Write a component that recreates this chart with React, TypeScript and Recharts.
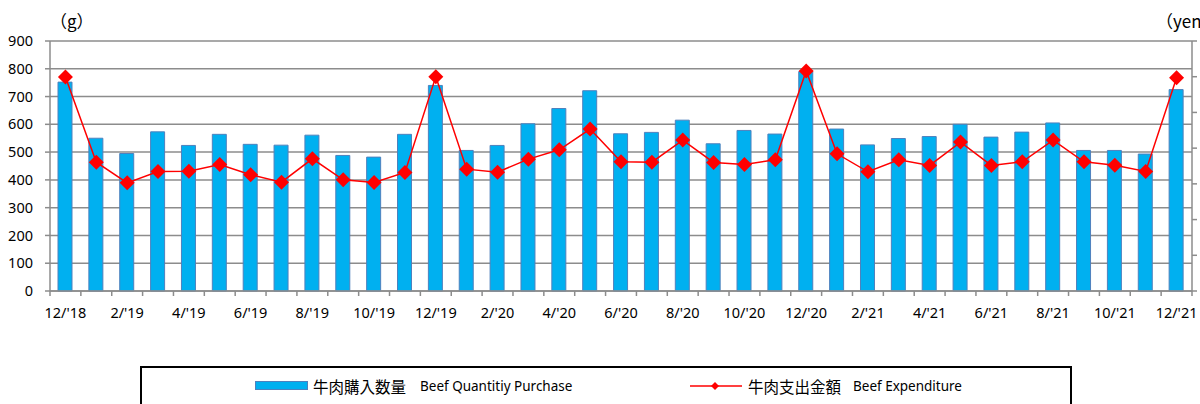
import React from "react";
import {
  ComposedChart, Bar, Line, XAxis, YAxis, CartesianGrid,
} from "recharts";

const months = [
  "12/'18", "1/'19", "2/'19", "3/'19", "4/'19", "5/'19", "6/'19", "7/'19", "8/'19", "9/'19", "10/'19", "11/'19",
  "12/'19", "1/'20", "2/'20", "3/'20", "4/'20", "5/'20", "6/'20", "7/'20", "8/'20", "9/'20", "10/'20", "11/'20",
  "12/'20", "1/'21", "2/'21", "3/'21", "4/'21", "5/'21", "6/'21", "7/'21", "8/'21", "9/'21", "10/'21", "11/'21",
  "12/'21",
];

// grams
const quantity = [
  752, 550, 495, 573, 524, 564, 528, 525, 561, 488, 482, 564,
  740, 506, 524, 602, 657, 721, 566, 571, 615, 530, 578, 565,
  790, 583, 526, 549, 556, 600, 554, 572, 605, 506, 506, 493,
  725,
];

// yen
const expenditure = [
  2995, 1804, 1514, 1673, 1678, 1771, 1627, 1524, 1851, 1556, 1519, 1660,
  3001, 1706, 1664, 1846, 1977, 2267, 1809, 1804, 2113, 1800, 1771, 1837,
  3080, 1921, 1669, 1837, 1758, 2085, 1758, 1809, 2113, 1809, 1762, 1673,
  2987,
];

const leftTicks = [0, 100, 200, 300, 400, 500, 600, 700, 800, 900];
const rightTicks = [0, 500, 1000, 1500, 2000, 2500, 3000, 3500];

const data = months.map((m, i) => ({ month: m, qty: quantity[i], yen: expenditure[i] }));

const W = 1200;
const H = 404;
const PLOT_LEFT = 50;
const PLOT_RIGHT = 1192;
const BAND = (PLOT_RIGHT - PLOT_LEFT) / months.length;
const GRID = "#8c8c8c";
const FONT = '"Noto Sans", "Noto Sans CJK JP", sans-serif';
const CJK = '"Noto Sans CJK JP", "Noto Sans", sans-serif';

const MonthTick = (props: any) => {
  const { x, y, index } = props;
  const left = x - BAND / 2;
  return (
    <g>
      <line x1={left} x2={left} y1={y} y2={y + 5} stroke={GRID} strokeWidth={1.5} />
      {index === months.length - 1 && (
        <line x1={x + BAND / 2} x2={x + BAND / 2} y1={y} y2={y + 5} stroke={GRID} strokeWidth={1.5} />
      )}
      {index % 2 === 0 && (
        <text x={x} y={y + 27} textAnchor="middle" fontSize={14.5} fill="#000" fontFamily={FONT}>
          {months[index]}
        </text>
      )}
    </g>
  );
};

const Diamond = (props: any) => {
  const { cx, cy } = props;
  if (cx == null || cy == null) return null;
  const r = 7.5;
  return (
    <polygon
      points={`${cx},${cy - r} ${cx + r},${cy} ${cx},${cy + r} ${cx - r},${cy}`}
      fill="#ff0000"
    />
  );
};

const NoLabel = () => <g />;

export default function App() {
  return (
    <div style={{ position: "absolute", left: 0, top: 0, width: W, height: H, background: "#fff", fontFamily: FONT, overflow: "hidden" }}>
      <ComposedChart
        width={W}
        height={H}
        data={data}
        margin={{ top: 41, right: 0, bottom: 83, left: 0 }}
      >
        <CartesianGrid yAxisId="left" vertical={false} stroke={GRID} strokeWidth={1.5} />
        <XAxis
          dataKey="month"
          height={30}
          interval={0}
          tickLine={false}
          tickSize={0}
          tickMargin={0}
          axisLine={{ stroke: GRID, strokeWidth: 1.5 }}
          tick={MonthTick}
        />
        <YAxis
          yAxisId="left"
          width={50}
          domain={[0, 900]}
          ticks={leftTicks}
          tickSize={5}
          tickMargin={12}
          tick={{ fontSize: 14.5, fill: "#000", fontFamily: FONT }}
          axisLine={{ stroke: GRID, strokeWidth: 1.5 }}
          tickLine={{ stroke: GRID, strokeWidth: 1.5 }}
        />
        <YAxis
          yAxisId="right"
          orientation="right"
          width={8}
          domain={[0, 3500]}
          ticks={rightTicks}
          tickSize={5}
          tick={NoLabel}
          axisLine={{ stroke: GRID, strokeWidth: 1.5 }}
          tickLine={{ stroke: GRID, strokeWidth: 1.5 }}
        />
        <Bar
          yAxisId="left"
          dataKey="qty"
          barSize={14}
          fill="#00b0f0"
          stroke="#4f81bd"
          strokeWidth={1}
          isAnimationActive={false}
        />
        <Line
          yAxisId="right"
          dataKey="yen"
          stroke="#ff0000"
          strokeWidth={1.5}
          dot={<Diamond />}
          activeDot={false}
          isAnimationActive={false}
        />
      </ComposedChart>

      <div style={{ position: "absolute", left: 50, top: 8, fontSize: 17, lineHeight: "26px", color: "#000", fontFamily: CJK }}>（g）</div>
      <div style={{ position: "absolute", left: 1156, top: 8, fontSize: 17, lineHeight: "26px", color: "#000", whiteSpace: "nowrap", fontFamily: CJK }}>（yen）</div>

      <div
        style={{
          position: "absolute",
          left: 140,
          top: 366,
          width: 932,
          height: 60,
          border: "2px solid #000",
          boxSizing: "border-box",
        }}
      >
        <svg style={{ position: "absolute", left: 113, top: 13 }} width={54} height={10}>
          <rect x={0.5} y={0.5} width={52} height={8} fill="#00b0f0" stroke="#4f81bd" strokeWidth={1} />
        </svg>
        <div style={{ position: "absolute", left: 171, top: 7, fontSize: 15.5, lineHeight: "22px", whiteSpace: "nowrap", color: "#000", fontFamily: CJK }}>
          牛肉購入数量
        </div>
        <div style={{ position: "absolute", left: 278, top: 7, fontSize: 13.5, lineHeight: "22px", whiteSpace: "nowrap", color: "#000" }}>
          Beef Quantitiy Purchase
        </div>
        <svg style={{ position: "absolute", left: 548, top: 11, overflow: "visible" }} width={54} height={14}>
          <line x1={0} x2={52} y1={7} y2={7} stroke="#ff0000" strokeWidth={1.5} />
          <polygon points="25,3 29,7 25,11 21,7" fill="#ff0000" />
        </svg>
        <div style={{ position: "absolute", left: 606, top: 7, fontSize: 15.5, lineHeight: "22px", whiteSpace: "nowrap", color: "#000", fontFamily: CJK }}>
          牛肉支出金額
        </div>
        <div style={{ position: "absolute", left: 711, top: 7, fontSize: 13.5, lineHeight: "22px", whiteSpace: "nowrap", color: "#000" }}>
          Beef Expenditure
        </div>
      </div>
    </div>
  );
}
